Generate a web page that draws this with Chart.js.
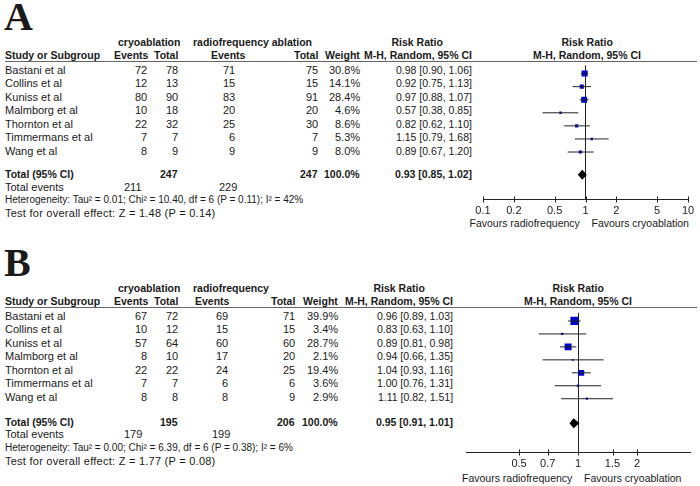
<!DOCTYPE html>
<html>
<head>
<meta charset="utf-8">
<script src="https://cdn.jsdelivr.net/npm/chart.js@4.4.0/dist/chart.umd.min.js"></script>
<style>
  body { margin: 0; width: 700px; height: 486px; overflow: hidden; position: relative; background: #fff;
         font-family: "Liberation Sans", Arial, sans-serif; color: #1a1a1a; }
  .t { position: absolute; white-space: nowrap; font-size: 10.5px; line-height: 14px; height: 14px; }
  .r { font-size: 11px; }
  .het { font-size: 10px; }
  .tst { font-size: 11px; letter-spacing: 0.25px; }
  .b { font-weight: bold; }
  .big { position: absolute; font-family: "Liberation Serif", serif; font-weight: bold; font-size: 40px; line-height: 40px; }
  .rule { position: absolute; height: 1px; background: #666; }
  canvas { position: absolute; }
</style>
</head>
<body>
<script>
// study names, same order in both panels
var studies = ["Bastani et al", "Collins et al", "Kuniss et al", "Malmborg et al",
               "Thornton et al", "Timmermans et al", "Wang et al"];

// panel A
var cryoEventsA = [72, 12, 80, 10, 22, 7, 8];
var cryoTotalA  = [78, 13, 90, 18, 32, 7, 9];
var rfEventsA   = [71, 15, 83, 20, 25, 6, 9];
var rfTotalA    = [75, 15, 91, 20, 30, 7, 9];
var weightA     = [30.8, 14.1, 28.4, 4.6, 8.6, 5.3, 8.0];
var rrA         = [0.98, 0.92, 0.97, 0.57, 0.82, 1.15, 0.89];
var lowA        = [0.90, 0.75, 0.88, 0.38, 0.62, 0.79, 0.67];
var highA       = [1.06, 1.13, 1.07, 0.85, 1.10, 1.68, 1.20];
var pooledA     = [0.85, 0.93, 1.02];   // low, estimate, high
var totalsA     = [247, 247];
var eventsA     = [211, 229];
var ticksA      = [0.1, 0.2, 0.5, 1, 2, 5, 10];
var tickLabelsA = ["0.1", "0.2", "0.5", "1", "2", "5", "10"];

// panel B
var cryoEventsB = [67, 10, 57, 8, 22, 7, 8];
var cryoTotalB  = [72, 12, 64, 10, 22, 7, 8];
var rfEventsB   = [69, 15, 60, 17, 24, 6, 8];
var rfTotalB    = [71, 15, 60, 20, 25, 6, 9];
var weightB     = [39.9, 3.4, 28.7, 2.1, 19.4, 3.6, 2.9];
var rrB         = [0.96, 0.83, 0.89, 0.94, 1.04, 1.00, 1.11];
var lowB        = [0.89, 0.63, 0.81, 0.66, 0.93, 0.76, 0.82];
var highB       = [1.03, 1.10, 0.98, 1.35, 1.16, 1.31, 1.51];
var pooledB     = [0.91, 0.95, 1.01];
var totalsB     = [195, 206];
var eventsB     = [179, 199];
var ticksB      = [0.5, 0.7, 1, 1.5, 2];
var tickLabelsB = ["0.5", "0.7", "1", "1.5", "2"];

var hetA  = "Heterogeneity: Tau² = 0.01; Chi² = 10.40, df = 6 (P = 0.11); I² = 42%";
var testA = "Test for overall effect: Z = 1.48 (P = 0.14)";
var hetB  = "Heterogeneity: Tau² = 0.00; Chi² = 6.39, df = 6 (P = 0.38); I² = 6%";
var testB = "Test for overall effect: Z = 1.77 (P = 0.08)";

// layout of each panel (pixels)
var layA = {
  letter: "A", letterY: -3, rfName: "radiofrequency ablation",
  h1: 42, h2: 55, lineY: 61, row0: 69.5, step: 13.5, totalY: 174, evY: 187, hetY: 200, testY: 213,
  colE1: 147, colT1: 178, colE2: 235, colE2h: 245, colT2: 318, colW: 360, colCI: 472, rrC: 417,
  x0: 483, x1: 688, xMin: 0.1, xMax: 10, center: 585.5, axisY: 199, favY: 223, plotC: 587, boxK: 1.1
};
var layB = {
  letter: "B", letterY: 243, rfName: "radiofrequency",
  h1: 288, h2: 301, lineY: 307, row0: 315.5, step: 13.5, totalY: 422, evY: 434, hetY: 448, testY: 461,
  colE1: 147, colT1: 178, colE2: 228, colE2h: 229, colT2: 295, colW: 338, colCI: 453, rrC: 399,
  x0: 466, x1: 690, xMin: 0.268, xMax: 3.73, center: 578, axisY: 452, favY: 478, plotC: 578, boxK: 1.3
};

function txt(s, x, y, align, cls) {
  var d = document.createElement("div");
  d.className = "t" + (cls ? " " + cls : "");
  d.textContent = s;
  d.style.top = (y - 7) + "px";
  document.body.appendChild(d);
  var w = d.offsetWidth;
  if (align === "right") d.style.left = (x - w) + "px";
  else if (align === "center") d.style.left = (x - w / 2) + "px";
  else d.style.left = x + "px";
  return d;
}

function table(L, ce, ct, re, rt, wt, rr, lo, hi, pooled, totals, events, het, test) {
  var big = document.createElement("div");
  big.className = "big";
  big.textContent = L.letter;
  big.style.left = "4px";
  big.style.top = L.letterY + "px";
  document.body.appendChild(big);

  txt("cryoablation", 118, L.h1, "left", "b");
  txt(L.rfName, 193, L.h1, "left", "b");
  txt("Risk Ratio", L.rrC, L.h1, "center", "b");
  txt("Risk Ratio", L.plotC, L.h1, "center", "b");

  txt("Study or Subgroup", 5, L.h2, "left", "b");
  txt("Events", L.colE1 + 1, L.h2, "right", "b");
  txt("Total", L.colT1, L.h2, "right", "b");
  txt("Events", L.colE2h, L.h2, "right", "b");
  txt("Total", L.colT2, L.h2, "right", "b");
  txt("Weight", L.colW, L.h2, "right", "b");
  txt("M-H, Random, 95% CI", L.colCI, L.h2, "right", "b");
  txt("M-H, Random, 95% CI", L.plotC, L.h2, "center", "b");

  var r = document.createElement("div");
  r.className = "rule";
  r.style.left = "5px";
  r.style.width = "692px";
  r.style.top = L.lineY + "px";
  document.body.appendChild(r);

  studies.forEach(function (s, i) {
    var y = L.row0 + L.step * i;
    txt(s, 5, y, "left", "r");
    txt(String(ce[i]), L.colE1, y, "right", "r");
    txt(String(ct[i]), L.colT1, y, "right", "r");
    txt(String(re[i]), L.colE2, y, "right", "r");
    txt(String(rt[i]), L.colT2, y, "right", "r");
    txt(wt[i].toFixed(1) + "%", L.colW, y, "right", "r");
    txt(rr[i].toFixed(2) + " [" + lo[i].toFixed(2) + ", " + hi[i].toFixed(2) + "]", L.colCI, y, "right");
  });

  txt("Total (95% CI)", 5, L.totalY, "left", "b");
  txt(String(totals[0]), L.colT1, L.totalY, "right", "b");
  txt(String(totals[1]), L.colT2, L.totalY, "right", "b");
  txt("100.0%", L.colW, L.totalY, "right", "b");
  txt(pooled[1].toFixed(2) + " [" + pooled[0].toFixed(2) + ", " + pooled[2].toFixed(2) + "]", L.colCI, L.totalY, "right", "b");

  txt("Total events", 5, L.evY, "left", "r");
  txt(String(events[0]), L.colE1 - 5, L.evY, "right", "r");
  txt(String(events[1]), L.colE2 + 2, L.evY, "right", "r");
  txt(het, 5, L.hetY, "left", "het");
  txt(test, 5, L.testY, "left", "tst");

  txt("Favours radiofrequency", L.center - 6, L.favY, "right");
  txt("Favours cryoablation", L.center + 6, L.favY, "left");
}

function plot(L, rr, lo, hi, wt, pooled, tickVals, tickLabels) {
  var pad = 22, axisH = 22;
  var W = L.x1 - L.x0 + 2 * pad;
  var areaH = L.axisY - L.lineY;
  var H = areaH + axisH;
  var cv = document.createElement("canvas");
  cv.width = W; cv.height = H;
  cv.style.width = W + "px"; cv.style.height = H + "px";
  cv.style.left = (L.x0 - pad) + "px";
  cv.style.top = L.lineY + "px";
  document.body.appendChild(cv);

  var yMin = -(L.row0 - L.lineY) / L.step;
  var yMax = yMin + areaH / L.step;
  var totalRow = (L.totalY - L.row0) / L.step;

  var datasets = [];
  rr.forEach(function (v, i) {
    datasets.push({
      type: "line",
      data: [{ x: lo[i], y: i }, { x: hi[i], y: i }],
      borderColor: "#222", borderWidth: 1, pointRadius: 0
    });
  });
  datasets.push({
    type: "scatter",
    data: rr.map(function (v, i) { return { x: v, y: i }; }),
    pointStyle: "rect",
    pointRadius: wt.map(function (w) { return Math.sqrt(w) * L.boxK / 1.414; }),
    backgroundColor: "#0000cc",
    borderWidth: 0
  });

  var extras = {
    id: "extras",
    afterDatasetsDraw: function (chart) {
      var xs = chart.scales.x, ys = chart.scales.y, c = chart.ctx;
      // pooled diamond
      var yc = ys.getPixelForValue(totalRow);
      c.save();
      c.fillStyle = "#000";
      c.beginPath();
      c.moveTo(xs.getPixelForValue(pooled[0]) - 0.5, yc);
      c.lineTo(xs.getPixelForValue(pooled[1]), yc - 5);
      c.lineTo(xs.getPixelForValue(pooled[2]) + 0.5, yc);
      c.lineTo(xs.getPixelForValue(pooled[1]), yc + 5);
      c.closePath();
      c.fill();
      // tick marks crossing the axis
      var ay = Math.round(chart.chartArea.bottom) + 0.5;
      c.strokeStyle = "#222";
      c.lineWidth = 1;
      tickVals.forEach(function (t) {
        var px = Math.round(xs.getPixelForValue(t)) + 0.5;
        c.beginPath();
        c.moveTo(px, ay - 3);
        c.lineTo(px, ay + 3);
        c.stroke();
      });
      c.restore();
    }
  };

  new Chart(cv.getContext("2d"), {
    type: "scatter",
    data: { datasets: datasets },
    options: {
      responsive: false,
      animation: false,
      events: [],
      layout: { padding: { left: pad, right: pad, top: 0, bottom: 0 } },
      plugins: { legend: { display: false }, tooltip: { enabled: false } },
      scales: {
        x: {
          type: "logarithmic",
          min: L.xMin, max: L.xMax,
          afterBuildTicks: function (s) { s.ticks = tickVals.map(function (v) { return { value: v }; }); },
          afterFit: function (s) { s.height = axisH; },
          border: { display: true, color: "#222", width: 1 },
          grid: {
            drawTicks: false,
            color: function (ctx) { return ctx.tick && ctx.tick.value === 1 ? "#222" : "rgba(0,0,0,0)"; }
          },
          ticks: {
            autoSkip: false, maxRotation: 0, padding: 5, color: "#1a1a1a",
            font: { family: "Liberation Sans", size: 11 },
            callback: function (v, i) { return tickLabels[i]; }
          }
        },
        y: { type: "linear", min: yMin, max: yMax, reverse: true, display: false }
      }
    },
    plugins: [extras]
  });
}

table(layA, cryoEventsA, cryoTotalA, rfEventsA, rfTotalA, weightA, rrA, lowA, highA, pooledA, totalsA, eventsA, hetA, testA);
table(layB, cryoEventsB, cryoTotalB, rfEventsB, rfTotalB, weightB, rrB, lowB, highB, pooledB, totalsB, eventsB, hetB, testB);
plot(layA, rrA, lowA, highA, weightA, pooledA, ticksA, tickLabelsA);
plot(layB, rrB, lowB, highB, weightB, pooledB, ticksB, tickLabelsB);
</script>
</body>
</html>
